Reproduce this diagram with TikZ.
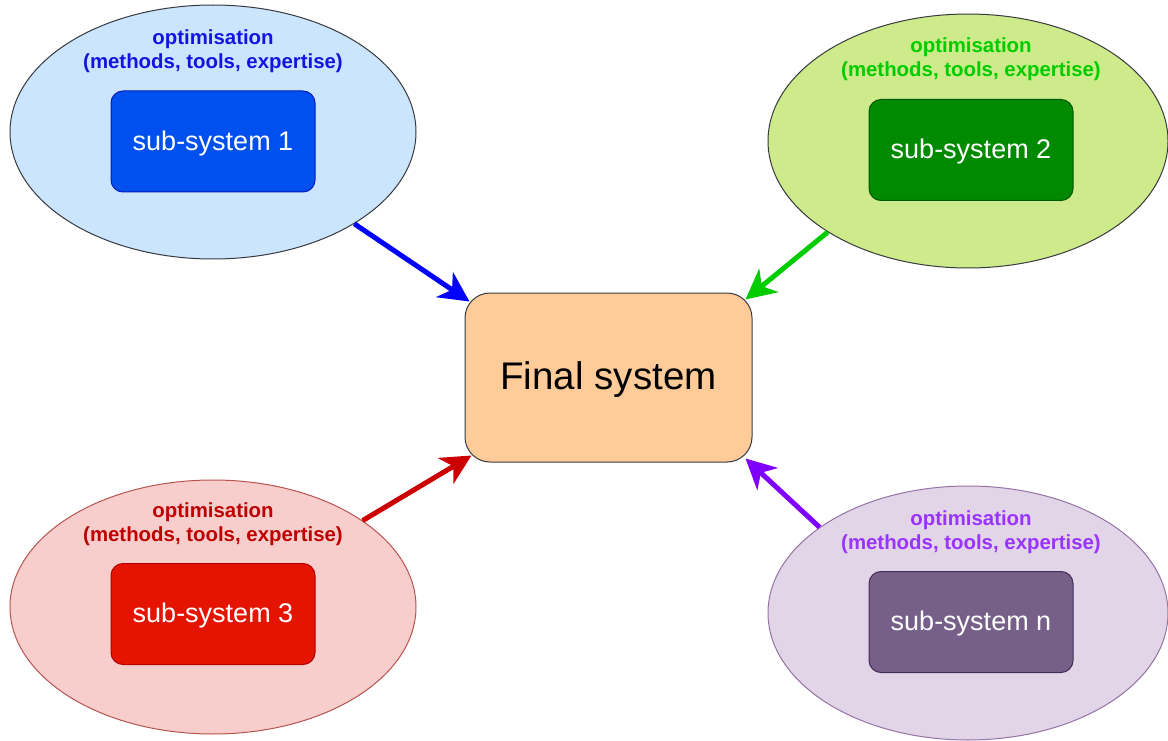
\documentclass[tikz,border=0pt]{standalone}
\usepackage{fontspec}
\setmainfont{Liberation Sans}
\usepackage{xcolor}
\usepackage{tikz}
\usetikzlibrary{positioning, arrows.meta, shapes.geometric}

\definecolor{edgegray}{HTML}{36393D}
\definecolor{finalfill}{HTML}{FFCC99}

\tikzset{
  optcloud/.style={ellipse, line width=1pt, minimum width=406pt, minimum height=254pt, inner sep=0pt},
  subbox/.style={rectangle, rounded corners=12pt, line width=1pt, minimum width=204pt, minimum height=101pt,
                 text=white, text depth=2pt, font=\fontsize{27}{32}\selectfont},
  optlabel/.style={align=center, font=\bfseries\fontsize{20.4}{24}\selectfont},
  feed/.style={line width=5pt, -{Stealth[length=30pt, width=30pt, inset=9pt]}}
}

\begin{document}
\begin{tikzpicture}[x=1pt, y=-1pt]
        \useasboundingbox (0,0) rectangle (1168,741);

        % Sub-system 1
        \node[optcloud, draw=edgegray, fill={rgb,255:red,204;green,229;blue,255}] (opt1) at (213,132) {};
        \node[optlabel, text={rgb,255:red,20;green,20;blue,225}] (lbl1) at (213,51) {optimisation\\(methods, tools, expertise)};
        \node[subbox, draw={rgb,255:red,0;green,29;blue,188}, fill={rgb,255:red,0;green,80;blue,239}] (sub1) at (213,141.5) {sub-system 1};

        % Sub-system 2
        \node[optcloud, minimum width=400pt, draw=edgegray, fill={rgb,255:red,205;green,235;blue,139}] (opt2) at (968,141) {};
        \node[optlabel, text={rgb,255:red,0;green,204;blue,0}] (lbl2) at (971,59) {optimisation\\(methods, tools, expertise)};
        \node[subbox, draw={rgb,255:red,0;green,87;blue,0}, fill={rgb,255:red,0;green,138;blue,0}] (sub2) at (971,150) {sub-system 2};

        % Sub-system 3
        \node[optcloud, draw={rgb,255:red,184;green,84;blue,80}, fill={rgb,255:red,248;green,206;blue,204}] (opt3) at (213,607) {};
        \node[optlabel, text={rgb,255:red,190;green,0;blue,0}] (lbl3) at (213,524) {optimisation\\(methods, tools, expertise)};
        \node[subbox, draw={rgb,255:red,178;green,0;blue,0}, fill={rgb,255:red,229;green,20;blue,0}] (sub3) at (213,614) {sub-system 3};

        % Sub-system n
        \node[optcloud, minimum width=400pt, draw={rgb,255:red,150;green,115;blue,166}, fill={rgb,255:red,225;green,213;blue,231}] (optn) at (968,613) {};
        \node[optlabel, text={rgb,255:red,153;green,51;blue,255}] (lbln) at (971,532) {optimisation\\(methods, tools, expertise)};
        \node[subbox, draw={rgb,255:red,67;green,45;blue,87}, fill={rgb,255:red,118;green,96;blue,138}] (subn) at (971,622) {sub-system n};

        % Final system
        \node[rectangle, rounded corners=25pt, line width=1pt, draw=edgegray, fill=finalfill, text depth=3pt,
              minimum width=287pt, minimum height=169pt, font=\fontsize{38.5}{44}\selectfont] (final) at (608.5,377.5) {Final system};

        % Arrows
        \draw[feed, draw={rgb,255:red,0;green,0;blue,255}, fill={rgb,255:red,0;green,0;blue,255}]
            (opt1.327) -- ([xshift=5pt, yshift=-9pt]final.north west);
        \draw[feed, draw={rgb,255:red,0;green,204;blue,0}, fill={rgb,255:red,0;green,204;blue,0}]
            (opt2.213) -- ([xshift=-7pt, yshift=-7pt]final.north east);
        \draw[feed, draw={rgb,255:red,204;green,0;blue,0}, fill={rgb,255:red,204;green,0;blue,0}]
            (opt3.30) -- ([xshift=7pt, yshift=7pt]final.south west);
        \draw[feed, draw={rgb,255:red,127;green,0;blue,255}, fill={rgb,255:red,127;green,0;blue,255}]
            (optn.150) -- ([xshift=-7pt, yshift=4pt]final.south east);

    \end{tikzpicture}
\end{document}
